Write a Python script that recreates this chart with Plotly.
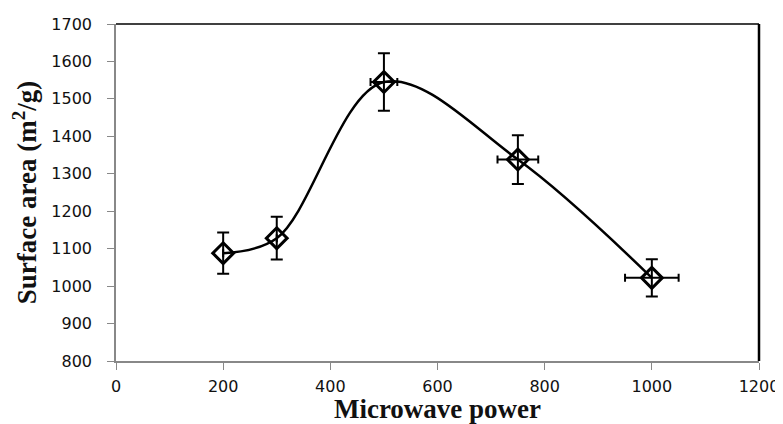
import plotly.graph_objects as go

power = [200, 300, 500, 750, 1000]
surface_area = [1088, 1128, 1545, 1338, 1022]
y_err = [55, 57, 77, 65, 50]
x_err = [0, 0, 25, 38, 50]

fig = go.Figure()
fig.add_trace(go.Scatter(
    x=power, y=surface_area, mode="lines+markers",
    line=dict(color="black", width=2.5, shape="spline", smoothing=1.0),
    marker=dict(symbol="diamond-open", size=16, color="black", line=dict(width=3)),
    error_y=dict(type="data", array=y_err, color="black", thickness=2, width=6),
    error_x=dict(type="data", array=x_err, color="black", thickness=2, width=4),
    showlegend=False,
))

tick_font = dict(family="DejaVu Sans", size=16, color="#111111")
title_font = dict(family="Liberation Serif", size=27, color="#111111")

fig.update_layout(
    width=775, height=416,
    margin=dict(l=108, r=24, t=16, b=63),
    paper_bgcolor="white", plot_bgcolor="white",
    xaxis=dict(range=[0, 1200], tickvals=[0, 200, 400, 600, 800, 1000, 1200],
               automargin=False,
               showgrid=False, zeroline=False, showline=True, linecolor="#888888", linewidth=1.5,
               ticks="outside", ticklen=7, tickcolor="#888888", ticklabelstandoff=3,
               tickfont=tick_font,
               title=dict(text="<b>Microwave power</b>", font=title_font, standoff=11)),
    yaxis=dict(range=[800, 1700], tickvals=list(range(800, 1701, 100)),
               automargin=False,
               showgrid=False, zeroline=False, showline=True, linecolor="#888888", linewidth=1.5,
               ticks="outside", ticklen=7, tickcolor="#888888", ticklabelstandoff=12,
               tickfont=tick_font,
               title=dict(text="<b>Surface area (m<sup>2</sup>/g)</b>", font=title_font, standoff=20)),
    shapes=[
        dict(type="line", xref="paper", yref="paper", x0=0, x1=1, y0=1, y1=1,
             line=dict(color="black", width=1.5)),
        dict(type="line", xref="paper", yref="paper", x0=1, x1=1, y0=0, y1=1,
             line=dict(color="black", width=2.5)),
    ],
)

fig.write_html("out.html")
